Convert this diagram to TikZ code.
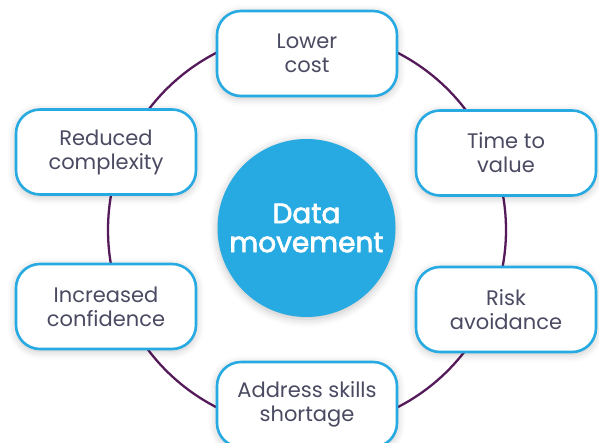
\documentclass[tikz,border=0pt]{standalone}
\usepackage{fontspec}
\setmainfont{Poppins}
\newfontfamily\hubfont{Poppins}[FakeBold=2.5]
\usetikzlibrary{shadows.blur}
\definecolor{skyblue}{HTML}{27AAE1}
\definecolor{plum}{HTML}{551A5A}
\definecolor{slate}{HTML}{4A4A62}

\begin{document}
\begin{tikzpicture}[x=1pt, y=-1pt,
  benefit/.style={draw=skyblue, line width=2.6pt, fill=white, rounded corners=24pt,
    minimum width=180pt, minimum height=85pt, align=center, text=slate,
    font=\fontsize{21}{24}\selectfont,
    blur shadow={shadow xshift=0pt, shadow yshift=-2pt, shadow blur radius=8pt, shadow opacity=25}},
  hub/.style={circle, fill=skyblue, minimum size=178pt, inner sep=0pt, align=center,
    text=white, font=\fontsize{28}{29}\hubfont,
    blur shadow={shadow xshift=0pt, shadow yshift=-2pt, shadow blur radius=8pt, shadow opacity=25}},
  ring/.style={draw=plum, line width=2.3pt}]

  \useasboundingbox (0,0) rectangle (599,442);

  \coordinate (mid) at (307,230);
  \draw[ring] (mid) circle[radius=199];

  \node[hub] (hub) at (306.5,228) {Data\\movement};

  \node[benefit] (cost) at (307,53.5) {Lower\\cost};
  \node[benefit] (time) at (506,153) {Time to\\value};
  \node[benefit] (risk) at (506,309.5) {Risk\\avoidance};
  \node[benefit] (skills) at (307,404.5) {Address skills\\shortage};
  \node[benefit] (conf) at (106,306.5) {Increased\\confidence};
  \node[benefit] (cplx) at (106,152) {Reduced\\complexity};

\end{tikzpicture}
\end{document}
